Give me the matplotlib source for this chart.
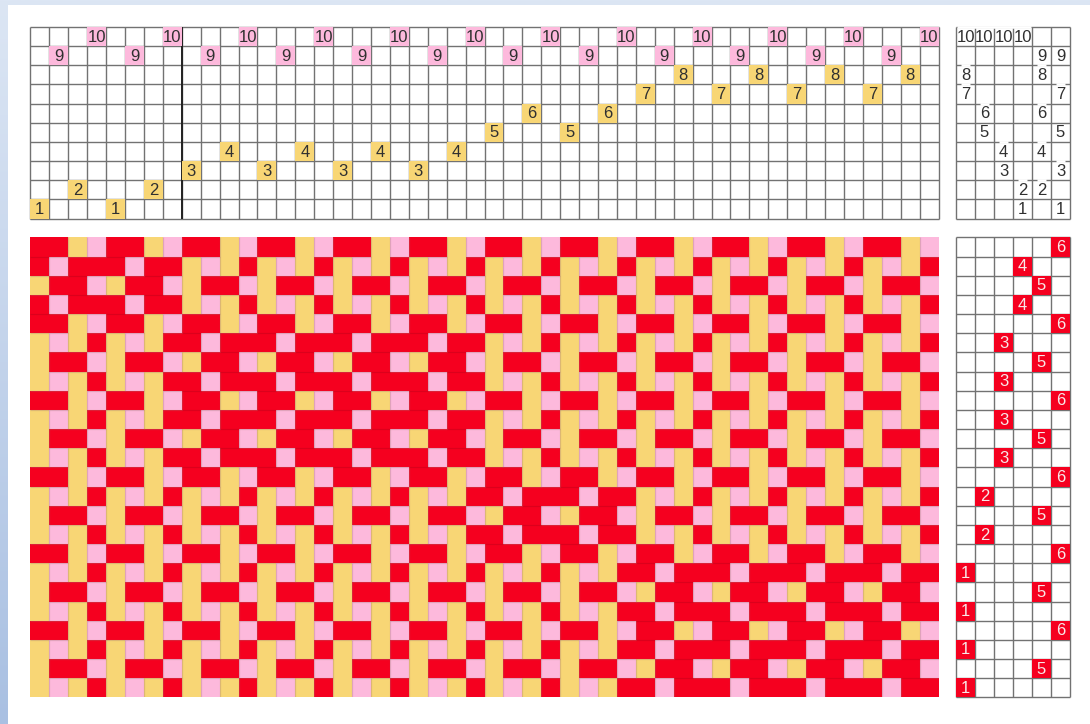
import numpy as np
import matplotlib
matplotlib.use("Agg")
import matplotlib.pyplot as plt
from matplotlib.collections import LineCollection
from matplotlib.colors import ListedColormap, LinearSegmentedColormap

plt.rcParams['font.family'] = ['Liberation Sans', 'DejaVu Sans']

# threading: harness number for each of the 48 warp ends
threading = [1, 9, 2, 10, 1, 9, 2, 10,
             3, 9, 4, 10, 3, 9, 4, 10, 3, 9, 4, 10, 3, 9, 4, 10,
             5, 9, 6, 10, 5, 9, 6, 10,
             7, 9, 8, 10, 7, 9, 8, 10, 7, 9, 8, 10, 7, 9, 8, 10]

# tie-up: the harnesses shown in each of the 6 treadle columns
tieup = [[10, 8, 7], [10, 6, 5], [10, 4, 3], [10, 2, 1],
         [9, 8, 6, 4, 2], [9, 7, 5, 3, 1]]

# tie-up cells (treadle, harness) whose top line is broken in the original
broken_tops = [(1, 8), (1, 7), (2, 6), (3, 4), (4, 2),
               (5, 8), (5, 6), (5, 4), (5, 2), (6, 7), (6, 3)]

# treadle used on each of the 24 picks, top to bottom
treadling = [6, 4, 5, 4, 6, 3, 5, 3, 6, 3, 5, 3,
             6, 2, 5, 2, 6, 1, 5, 1, 6, 1, 5, 1]

# cloth row woven by each treadle: R red, Y yellow, P pink
cloth_rows = {
    1: "YPYRYPYRYPYRYPYRYPYRYPYRYPYRYPYRRPRRRPRRRPRRRPRR",
    2: "YPYRYPYRYPYRYPYRYPYRYPYRRPRRRPRRYPYRYPYRYPYRYPYR",
    3: "YPYRYPYRRPRRRPRRRPRRRPRRYPYRYPYRYPYRYPYRYPYRYPYR",
    4: "RPRRRPRRYPYRYPYRYPYRYPYRYPYRYPYRYPYRYPYRYPYRYPYR",
    5: "YRRPYRRPYRRPYRRPYRRPYRRPYRRPYRRPYRRPYRRPYRRPYRRP",
    6: "RRYPRRYPRRYPRRYPRRYPRRYPRRYPRRYPRRYPRRYPRRYPRRYP",
}

red = '#F5001F'
yellow = '#F8D675'
pink = '#FDB9DC'
grid_col = '#727272'
text_col = '#303030'
W, H = 1090, 724


def panel(x0, y0, x1, y1, ncol, nrow):
    # axes placed in pixels, data units are cells
    ax = fig.add_axes([x0 / W, 1 - y1 / H, (x1 - x0) / W, (y1 - y0) / H])
    ax.set_xlim(0, ncol)
    ax.set_ylim(nrow, 0)
    ax.axis('off')
    return ax


def draw_grid(ax, ncol, nrow):
    ax.vlines(np.arange(ncol + 1), 0, nrow, color=grid_col, lw=1.0, zorder=1, clip_on=False)
    ax.hlines(np.arange(nrow + 1), 0, ncol, color=grid_col, lw=1.0, zorder=1, clip_on=False)


fig = plt.figure(figsize=(W / 100, H / 100), dpi=100, facecolor='white')

# page background, pale blue band on the top and left
bg = fig.add_axes([0, 0, 1, 1], zorder=-1)
bg.axis('off')
shade = np.linspace(0, 1, 256)[:, None]
bg.imshow(shade, aspect='auto', extent=(0, W, H, 0),
          cmap=LinearSegmentedColormap.from_list('band', ['#DCE6F4', '#A9C0E2']))
bg.set_xlim(0, W)
bg.set_ylim(H, 0)
bg.fill_between([8, W], 5, H, color='white', lw=0)

# threading
ax = panel(30.4, 27, 938.6, 218.5, 48, 10)
draw_grid(ax, 48, 10)
ax.vlines(8, 0, 10, color='#222222', lw=1.4, zorder=2)
for i, h in enumerate(threading):
    y = 10 - h
    ax.add_patch(plt.Rectangle((i, y), 1, 1, fc=pink if h > 8 else yellow, ec='none', zorder=3))
    ax.text(i + 0.5, y + 0.53, str(h), ha='center', va='center', fontsize=12, color=text_col, zorder=4)

# tie-up
ax = panel(956, 27, 1070, 218.5, 6, 10)
draw_grid(ax, 6, 10)
ax.hlines(0, 0.03, 3.97, color='white', lw=1.8, zorder=2, clip_on=False)
for t, h in broken_tops:
    ax.hlines(10 - h, t - 0.72, t - 0.25, color='white', lw=1.8, zorder=2)
for t, harnesses in enumerate(tieup):
    for h in harnesses:
        ax.text(t + 0.5, 10 - h + 0.53, str(h), ha='center', va='center', fontsize=12, color=text_col, zorder=4)

# drawdown
codes = {'R': 0, 'Y': 1, 'P': 2}
cloth = np.array([[codes[c] for c in cloth_rows[t]] for t in treadling])
ax = panel(30.4, 237.5, 938.6, 697.3, 48, 24)
ax.pcolormesh(np.arange(49), np.arange(25), cloth, cmap=ListedColormap([red, yellow, pink]), vmin=0, vmax=2)

# soft outlines of the floats: nothing inside a long red or yellow float
soft, dark = [], []
for r in range(24):
    for c in range(48):
        if c < 47 and not (cloth[r, c] == 0 and cloth[r, c + 1] == 0):
            soft.append([(c + 1, r), (c + 1, r + 1)])
        if r < 23 and not (cloth[r, c] == 1 and cloth[r + 1, c] == 1):
            if cloth[r, c] == 0 and cloth[r + 1, c] == 0:
                dark.append([(c, r + 1), (c + 1, r + 1)])
            else:
                soft.append([(c, r + 1), (c + 1, r + 1)])
ax.add_collection(LineCollection(soft, colors='#A07070', alpha=0.3, linewidths=0.9))
ax.add_collection(LineCollection(dark, colors='#B00018', alpha=0.35, linewidths=0.9))

# treadling
ax = panel(956, 237.5, 1070, 697.3, 6, 24)
draw_grid(ax, 6, 24)
for row, t in enumerate(treadling):
    ax.add_patch(plt.Rectangle((t - 1, row), 1, 1, fc=red, ec='none', zorder=3))
    ax.text(t - 0.5, row + 0.53, str(t), ha='center', va='center', fontsize=12, color='#F8E8E8', zorder=4)

fig.savefig('out.png', dpi=100)
